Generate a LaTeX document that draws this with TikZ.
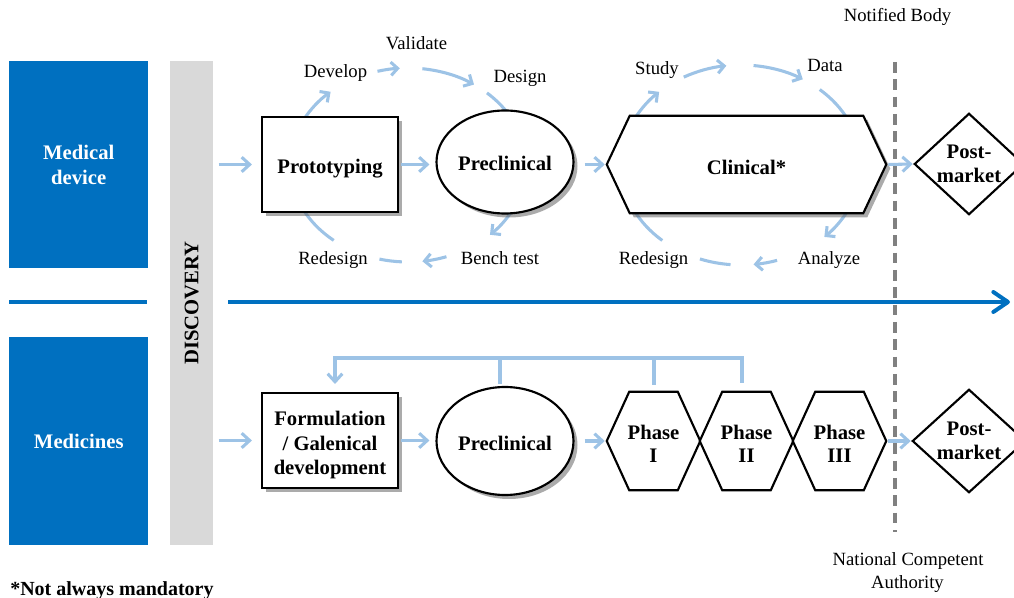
\documentclass[tikz,border=0pt]{standalone}
\usepackage{fontspec}
\setmainfont{Liberation Serif}
\usetikzlibrary{arrows.meta,shapes.geometric,shadows,calc}
\definecolor{dblue}{HTML}{0070C0}
\definecolor{lblue}{HTML}{9DC3E6}
\definecolor{discgrey}{HTML}{D9D9D9}
\definecolor{dashgrey}{HTML}{808080}
\newcommand\cycarc[5]{(#1) ++(#2:#4 and #5) arc[start angle=#2, end angle=#3, x radius=#4, y radius=#5]}
\newcommand\cycA[3]{\cycarc{#1}{#2}{#3}{88.5pt}{72.75pt}}
\newcommand\cycB[3]{\cycarc{#1}{#2}{#3}{90pt}{75pt}}
\begin{document}
\begin{tikzpicture}[x=0.75pt,y=-0.75pt,
  lbl/.style={font=\fontsize{14}{16}\selectfont, inner sep=0, anchor=base},
  bl/.style={font=\bfseries\fontsize{15.5}{18.5}\selectfont, align=center},
  cyc/.style={draw=lblue, line width=2.3pt},
  cyca/.style={cyc, -{Straight Barb[length=5pt,width=10pt]}},
  flow/.style={draw=lblue, line width=2.3pt, -{Straight Barb[length=6pt,width=11pt]}},
  box/.style={draw=black, line width=1.6pt, fill=white},
  shad/.style={drop shadow={shadow xshift=3pt, shadow yshift=-3pt, fill=black!60, opacity=0.55}},
  ghost/.style={inner sep=0, draw=none},
]
\useasboundingbox (0,0) rectangle (1014,598);
\clip (0,0) rectangle (1014,598);

% left labels
\node[fill=dblue, minimum width=104.25pt, minimum height=155.25pt, inner sep=0, anchor=north west, text=white, bl] (md) at (9,61) {Medical\\device};
\node[fill=dblue, minimum width=104.25pt, minimum height=156pt, inner sep=0, anchor=north west, text=white, bl] (med) at (9,337) {Medicines};
\coordinate (sepA) at (9,302);
\coordinate (sepB) at (147,302);
\draw[dblue, line width=3pt] (sepA) -- (sepB);

% discovery bar
\node[fill=discgrey, minimum width=32.25pt, minimum height=363pt, inner sep=0, anchor=north west] (disc) at (170,61) {};
\node[bl, rotate=90] (disct) at (disc.center) {DISCOVERY};

% timeline arrow
\coordinate (tlA) at (228,302);
\coordinate (tlB) at (1010,302);
\draw[dblue, line width=3pt, -{Straight Barb[length=11pt,width=15pt,round]}] (tlA) -- (tlB);

% dashed boundary
\coordinate (dsA) at (895,62);
\coordinate (dsB) at (895,532);
\draw[dashgrey, line width=2.4pt, dash pattern=on 8pt off 5pt] (dsA) -- (dsB);

% cycle 1
\coordinate (c1) at (408,165);
\draw[cyca] \cycA{c1}{152}{131};
\draw[cyca] \cycA{c1}{105}{94};
\draw[cyca] \cycA{c1}{83}{56};
\draw[cyc]  \cycA{c1}{48}{20};
\draw[cyca] \cycA{c1}{-25}{-46};
\draw[cyca] \cycA{c1}{-71}{-83};
\draw[cyc]  \cycA{c1}{-93}{-104};
\draw[cyc]  \cycA{c1}{-129}{-155};

% cycle 2
\coordinate (c2) at (741,165);
\draw[cyca] \cycB{c2}{152}{133};
\draw[cyca] \cycB{c2}{118.5}{97};
\draw[cyca] \cycB{c2}{84}{59};
\draw[cyc]  \cycB{c2}{49}{26};
\draw[cyca] \cycB{c2}{-27}{-46};
\draw[cyca] \cycB{c2}{-72.5}{-84};
\draw[cyc]  \cycB{c2}{-95}{-110};
\draw[cyc]  \cycB{c2}{-131}{-154};

% top row
\node[box, shad, minimum width=102pt, minimum height=71.25pt] (proto) at (330,164.5) {};
\node[bl] (protot) at ([yshift=-3pt]proto.center) {Prototyping};
\node[box, shad, ellipse, minimum width=102.75pt, minimum height=77.25pt, inner sep=0] (pre1) at (505,162) {};
\node[bl] (pre1t) at ([yshift=-1pt]pre1.center) {Preclinical};
\node[ghost, minimum width=209.25pt, minimum height=72.75pt] (clin) at (746.5,164.5) {};
\draw[box, shad] (clin.west) -- ($(clin.north west)+(23,0)$) -- ($(clin.north east)+(-23,0)$) -- (clin.east) -- ($(clin.south east)+(-23,0)$) -- ($(clin.south west)+(23,0)$) -- cycle;
\node[bl] (clint) at ([yshift=-2.5pt]clin.center) {Clinical*};
\node[ghost, minimum width=81pt, minimum height=75pt] (pm1) at (969,164) {};
\draw[box] (pm1.west) -- (pm1.north) -- (pm1.east) -- (pm1.south) -- cycle;
\node[bl] (pm1t) at (pm1.center) {Post-\\market};

\draw[flow, shorten <=3.75pt, shorten >=6.75pt] (disc.east |- proto.west) -- (proto.west);
\draw[flow, shorten <=1.5pt, shorten >=4.5pt] (proto.east) -- (proto.east -| pre1.west);
\draw[flow, shorten <=7.5pt, shorten >=1.5pt] (pre1.east |- proto.east) -- (clin.west);
\draw[flow, shorten <=1.5pt, shorten >=1.5pt] (clin.east) -- (pm1.west);

% cycle labels
\node[lbl] (l1) at (335.5,78) {Develop};
\node[lbl] (l2) at (416.5,50) {Validate};
\node[lbl] (l3) at (520,83) {Design};
\node[lbl] (l4) at (500,265) {Bench test};
\node[lbl] (l5) at (333,265) {Redesign};
\node[lbl] (l6) at (657,75) {Study};
\node[lbl] (l7) at (825,72) {Data};
\node[lbl] (l8) at (829,265) {Analyze};
\node[lbl] (l9) at (653.5,265) {Redesign};
\node[lbl] (nb) at (897.5,22) {Notified Body};
\node[lbl] (nca) at (908,565) {National Competent};
\node[lbl] (ncb) at (907.5,588) {Authority};

% bottom row
\node[box, shad, minimum width=102pt, minimum height=71.25pt] (form) at (330,440.5) {};
\node[bl] (formt) at ([yshift=-3.5pt]form.center) {Formulation\\/ Galenical\\development};
\node[box, shad, ellipse, minimum width=102.75pt, minimum height=81pt, inner sep=0] (pre2) at (505,441) {};
\node[bl] (pre2t) at ([yshift=-1.5pt]pre2.center) {Preclinical};
\foreach \n/\cx/\t in {ph1/653.5/I, ph2/746.5/II, ph3/839.5/III}{
  \node[ghost, minimum width=69.75pt, minimum height=73.5pt] (\n) at (\cx,441) {};
  \draw[box] (\n.west) -- ($(\n.north west)+(22.5,0)$) -- ($(\n.north east)+(-22.5,0)$) -- (\n.east) -- ($(\n.south east)+(-22.5,0)$) -- ($(\n.south west)+(22.5,0)$) -- cycle;
  \node[bl, font=\bfseries\fontsize{15.5}{17.5}\selectfont] (\n t) at ([yshift=-2pt]\n.center) {Phase\\\t};
}
\node[ghost, minimum width=84pt, minimum height=76.5pt] (pm2) at (969,441) {};
\draw[box] (pm2.west) -- (pm2.north) -- (pm2.east) -- (pm2.south) -- cycle;
\node[bl] (pm2t) at (pm2.center) {Post-\\market};

\draw[flow, shorten <=3.75pt, shorten >=6.75pt] (disc.east |- form.west) -- (form.west);
\draw[flow, shorten <=1.5pt, shorten >=4.5pt] (form.east) -- (form.east -| pre2.west);
\draw[flow, shorten <=7.5pt, shorten >=1.5pt] (pre2.east) -- (ph1.west);
\draw[flow, shorten <=1.5pt, shorten >=1.5pt] (ph3.east) -- (pm2.west);

% feedback
\coordinate (fbL) at (335,358);
\coordinate (fbF) at (335,384);
\coordinate (tkP) at (500,384);
\coordinate (tk1) at (654,385);
\coordinate (tk2) at (742,383);
\draw[cyc, -{Straight Barb[length=6pt,width=11pt]}] (tk2) |- (fbL) -- (fbF);
\draw[cyc] (tkP) -- (tkP |- fbL);
\draw[cyc] (tk1) -- (tk1 |- fbL);

% footnote
\node[font=\bfseries\fontsize{15}{18}\selectfont, inner sep=0, anchor=base west] (fn) at (10,595) {*Not always mandatory};
\end{tikzpicture}
\end{document}
